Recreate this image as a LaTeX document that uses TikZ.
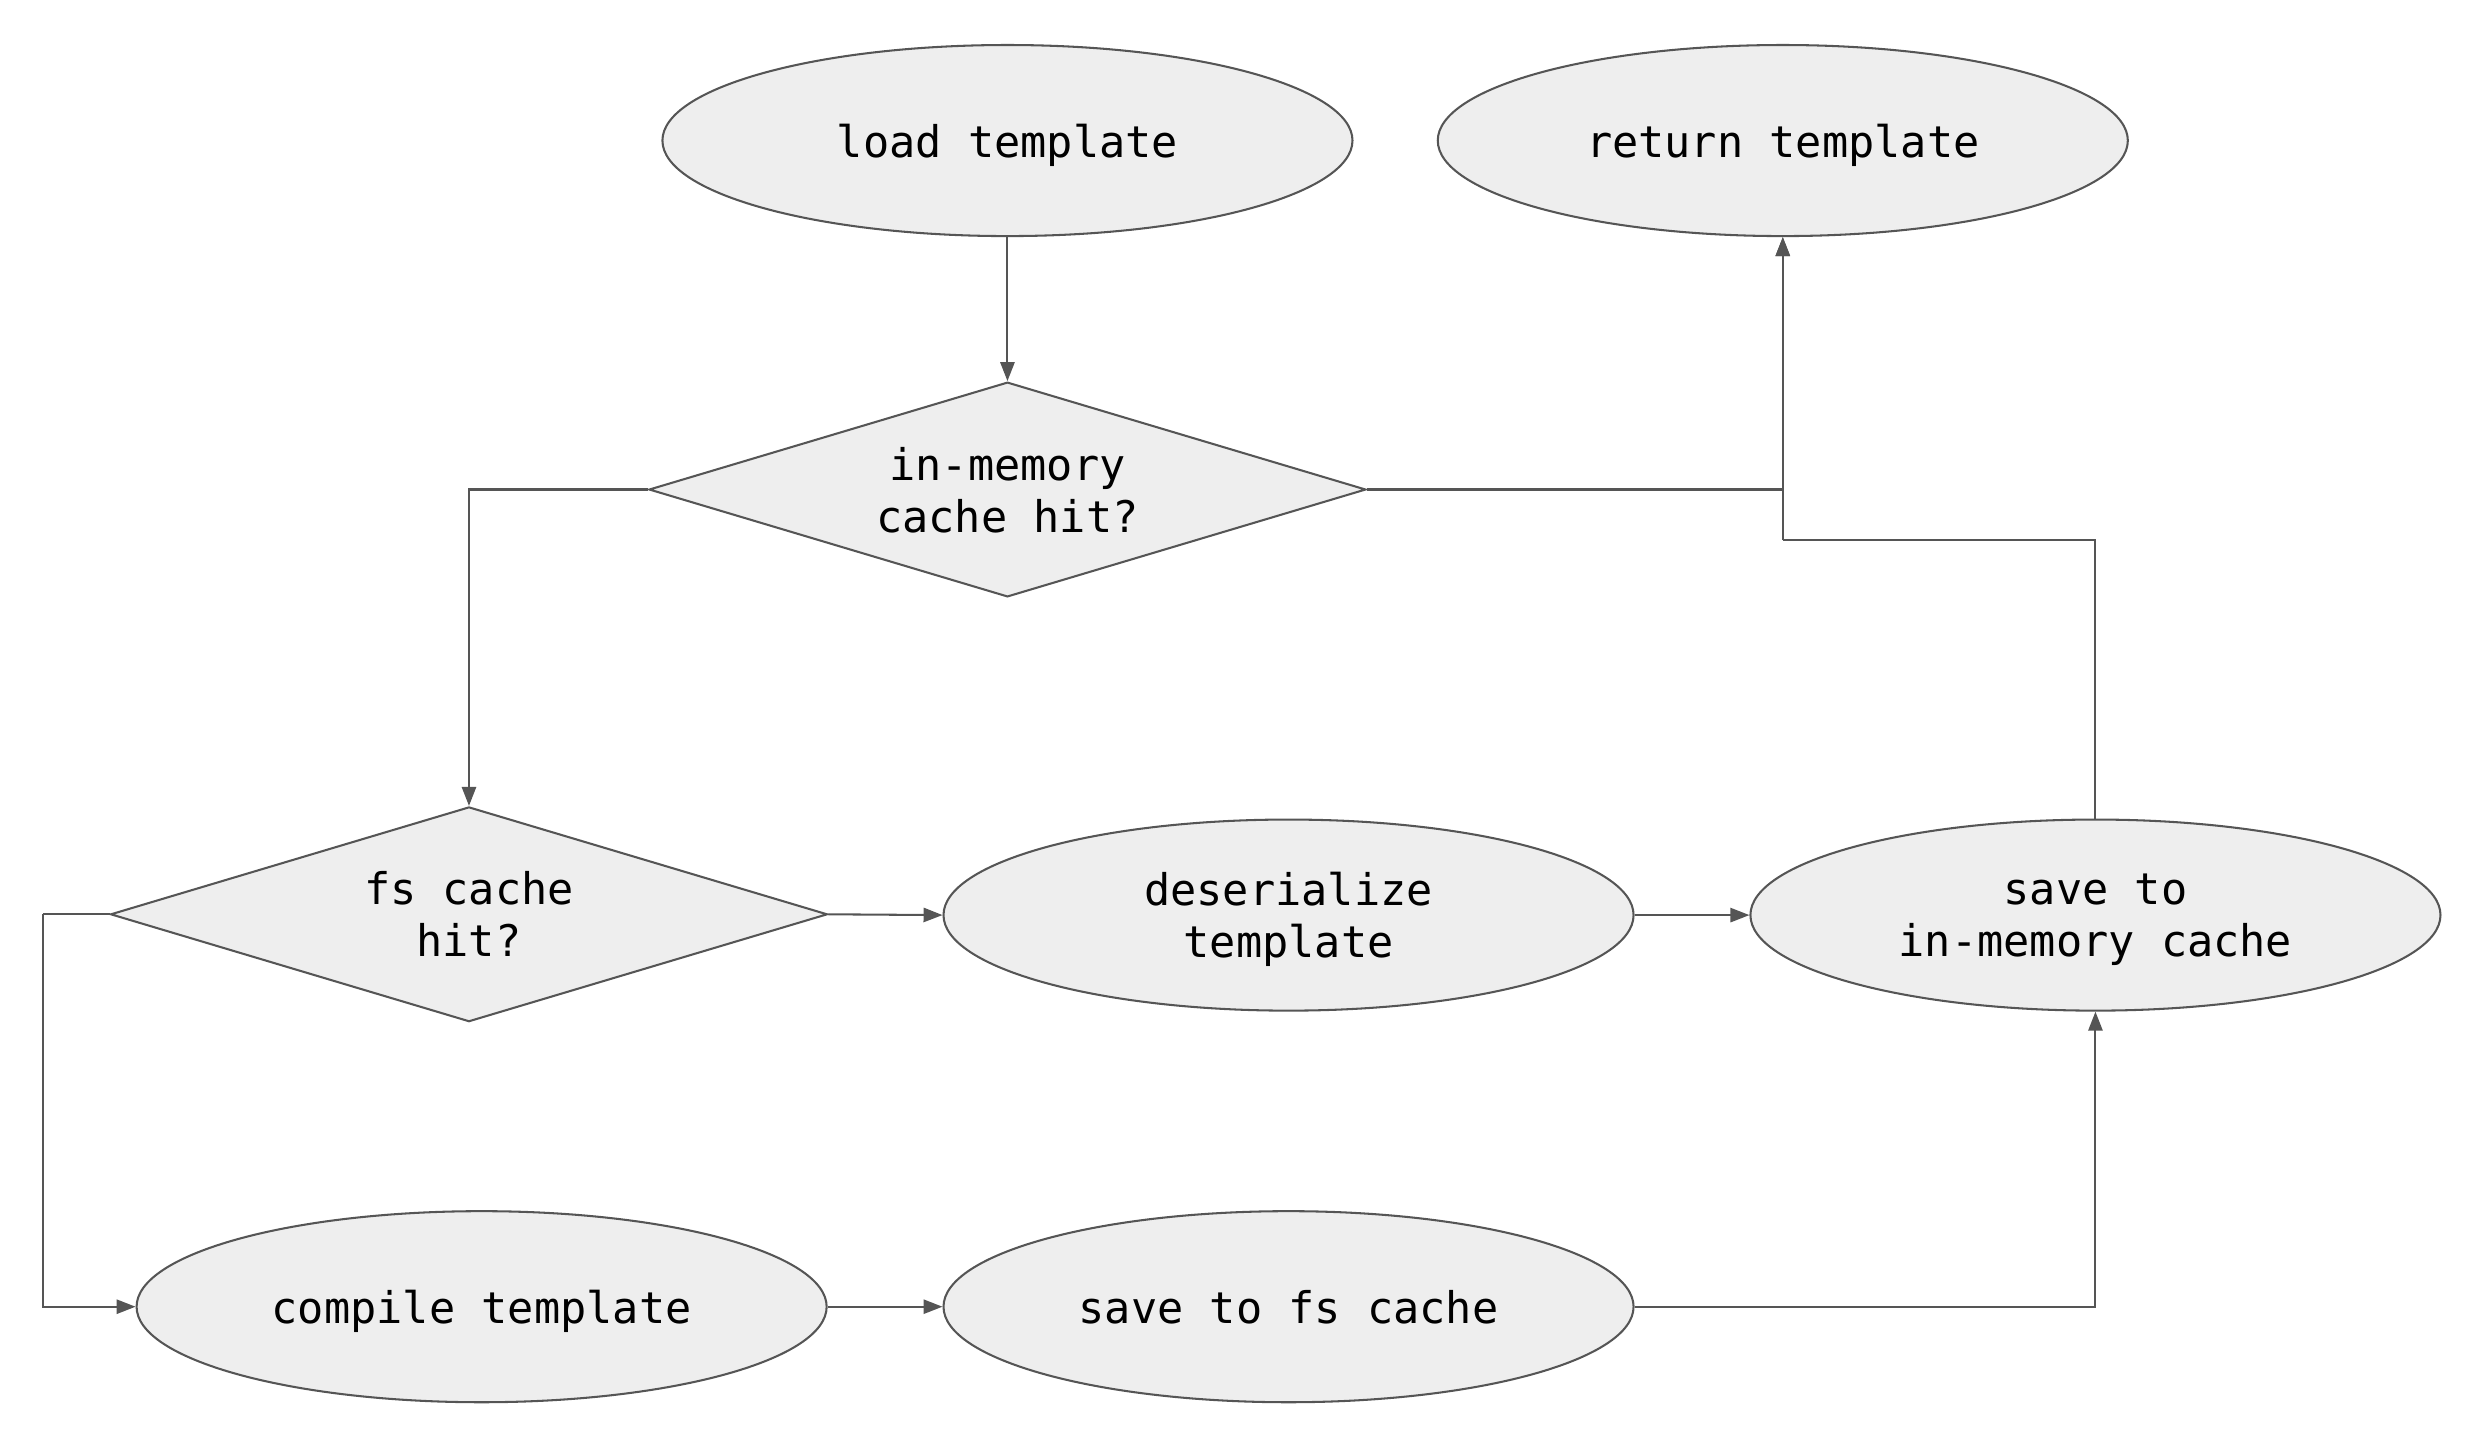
\documentclass[tikz,border=0pt]{standalone}
\usepackage{fontspec}
\setmonofont{DejaVu Sans Mono}
\usetikzlibrary{shapes.geometric,arrows.meta}
\definecolor{fillg}{HTML}{EEEEEE}
\definecolor{strokeg}{HTML}{555555}
\tikzset{
  base/.style={draw=strokeg, fill=fillg, line width=1.3pt, inner sep=0pt, align=center,
    font=\fontsize{27.6}{33}\selectfont\ttfamily, text=black, text depth=0pt},
  oval/.style={base, ellipse, minimum width=437pt, minimum height=121pt},
  dia/.style={base, diamond, shape aspect=3.34, minimum width=454pt, minimum height=136pt},
  arr/.style={draw=strokeg, line width=1.3pt, -{Triangle[length=12pt,width=9pt]}},
  ln/.style={draw=strokeg, line width=1.3pt}
}
\begin{document}
\begin{tikzpicture}[x=1pt,y=-1pt]
\useasboundingbox (0,0) rectangle (1568,913.2);
\node[oval] (load) at (638,89) {load template};
\node[oval] (ret) at (1129,89) {return template};
\node[dia] (im) at (638,310) {in-memory\\cache hit?};
\node[dia] (fs) at (297,579) {fs cache\\hit?};
\node[oval] (des) at (816,579.5) {deserialize\\template};
\node[oval] (sim) at (1327,579.5) {save to\\in-memory cache};
\node[oval] (comp) at (305,827.5) {compile template};
\node[oval] (sfs) at (816,827.5) {save to fs cache};
\coordinate (j) at (1129,342);
\coordinate (l) at (27,579);
\draw[arr] (load) -- (im);
\draw[arr] (im.west) -| (fs.north);
\draw[arr] (im.east) -| (ret.south);
\draw[ln] (sim.north) |- (j);
\draw[arr] (j) -- (ret.south);
\draw[arr] (fs.east) -- (des.west);
\draw[arr] (des.east) -- (sim.west);
\draw[ln] (fs.west) -- (l);
\draw[arr] (l) |- (comp.west);
\draw[arr] (comp.east) -- (sfs.west);
\draw[arr] (sfs.east) -| (sim.south);
\end{tikzpicture}
\end{document}
